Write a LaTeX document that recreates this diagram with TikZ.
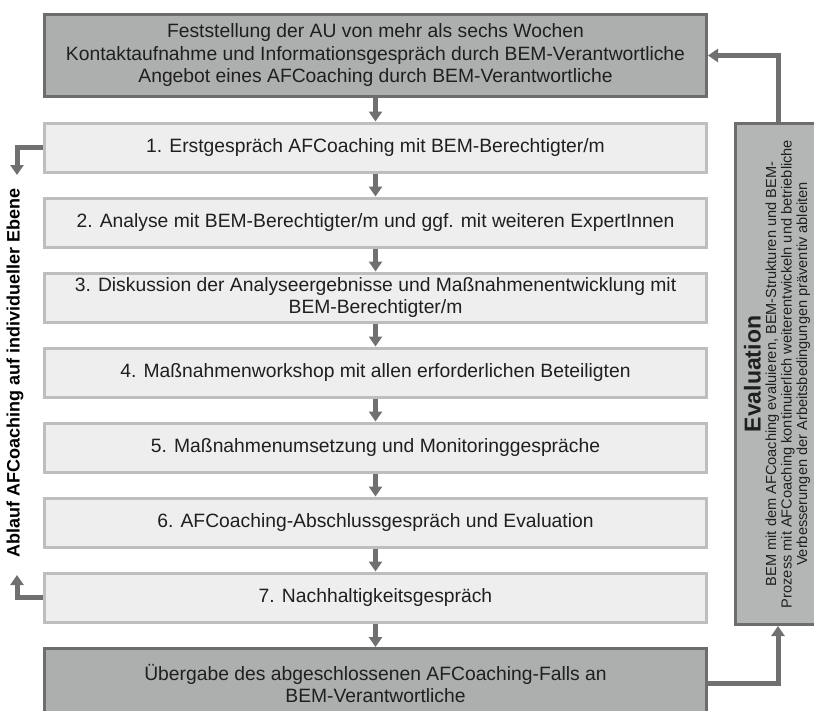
\documentclass[tikz,border=0pt]{standalone}
\usepackage{fontspec}
\setmainfont{Liberation Sans}
\usetikzlibrary{arrows.meta}
\definecolor{phasefill}{HTML}{ADAEAE}
\definecolor{phaseline}{HTML}{6D6D6D}
\definecolor{stepfill}{HTML}{EEEEEE}
\definecolor{stepline}{HTML}{BEBEBE}
\definecolor{evalfill}{HTML}{B4B5B5}
\definecolor{flowgray}{HTML}{707070}
\definecolor{textgray}{HTML}{1F1F1F}

\begin{document}
\begin{tikzpicture}[x=1pt, y=-1pt,
    phase/.style={draw=phaseline, line width=3pt, fill=phasefill, minimum width=662pt, inner sep=0pt, align=center, text=textgray, font=\fontsize{19.3}{22.5}\selectfont},
    stepbox/.style={draw=stepline, line width=3pt, fill=stepfill, minimum width=662pt, minimum height=49pt, inner sep=0pt, align=center, text=textgray, font=\fontsize{19.3}{22.5}\selectfont},
    flow/.style={draw=flowgray, line width=5pt, -{Triangle[width=13pt,length=10pt]}}]
    %\draw[help lines, color=gray!30, dashed] (0,0) grid[step=50] (814,710);
    \path[use as bounding box, clip] (0,0) rectangle (814,710);
    \node[phase, minimum height=82pt] (start) at (375.5,55.5) {Feststellung der AU von mehr als sechs Wochen\\Kontaktaufnahme und Informationsgespräch durch BEM-Verantwortliche\\Angebot eines AFCoaching durch BEM-Verantwortliche};
    \node[stepbox] (s1) at (375.5,147.5) {1. Erstgespräch AFCoaching mit BEM-Berechtigter/m};
    \node[stepbox] (s2) at (375.5,222.5) {2. Analyse mit BEM-Berechtigter/m und ggf. mit weiteren ExpertInnen};
    \node[stepbox] (s3) at (375.5,297.5) {3. Diskussion der Analyseergebnisse und Maßnahmenentwicklung mit\\BEM-Berechtigter/m};
    \node[stepbox] (s4) at (375.5,372.5) {4. Maßnahmenworkshop mit allen erforderlichen Beteiligten};
    \node[stepbox] (s5) at (375.5,447.5) {5. Maßnahmenumsetzung und Monitoringgespräche};
    \node[stepbox] (s6) at (375.5,522.5) {6. AFCoaching-Abschlussgespräch und Evaluation};
    \node[stepbox] (s7) at (375.5,597.5) {7. Nachhaltigkeitsgespräch};
    \node[phase, minimum height=70pt] (handover) at (375.5,683.5) {Übergabe des abgeschlossenen AFCoaching-Falls an\\BEM-Verantwortliche};
    \node[draw=phaseline, line width=3pt, fill=evalfill, minimum width=83pt, minimum height=501pt, inner sep=0pt] (eval) at (776.5,374) {};
    \node[rotate=90, align=center, text=textgray, font=\fontsize{14.6}{15.5}\selectfont] (evaltext) at (777,374) {{\fontsize{23}{23}\selectfont\bfseries Evaluation}\\BEM mit dem AFCoaching evaluieren, BEM-Strukturen und BEM-\\Prozess mit AFCoaching kontinuierlich weiterentwickeln und betriebliche\\Verbesserungen der Arbeitsbedingungen präventiv ableiten};
    \node[rotate=90, text=black, font=\fontsize{18}{20}\selectfont\bfseries] (side) at (15,373) {Ablauf AFCoaching auf individueller Ebene};
    \coordinate (downend) at (17,175);
    \coordinate (upend) at (17,575);
    \coordinate (back) at (778,55.5);
    \draw[flow] (start) -- (s1);
    \draw[flow] (s1) -- (s2);
    \draw[flow] (s2) -- (s3);
    \draw[flow] (s3) -- (s4);
    \draw[flow] (s4) -- (s5);
    \draw[flow] (s5) -- (s6);
    \draw[flow] (s6) -- (s7);
    \draw[flow] (s7) -- (handover);
    \draw[flow] (s1.west) -| (downend);
    \draw[flow] (s7.west) -| (upend);
    \draw[flow] (back |- eval.north) |- (start.east);
    \draw[flow] (handover.east) -| (back |- eval.south);
\end{tikzpicture}
\end{document}
